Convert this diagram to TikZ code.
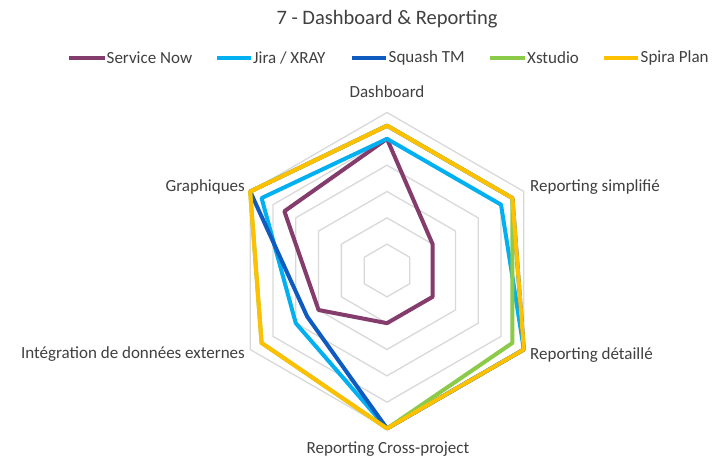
\documentclass[tikz,border=0pt]{standalone}
\usepackage{fontspec}
\setmainfont{Carlito}
\definecolor{cSN}{HTML}{833C6B}
\definecolor{cJira}{HTML}{00B0F0}
\definecolor{cSquash}{HTML}{0F5BC0}
\definecolor{cXs}{HTML}{8CCB4A}
\definecolor{cSpira}{HTML}{FFC000}
\definecolor{cGrid}{HTML}{D9D9D9}
\definecolor{cText}{HTML}{404040}
\newcommand\myradar[7]{\draw[series,#1] (-90:#2*26.333) -- (-30:#3*26.333) -- (30:#4*26.333) -- (90:#5*26.333) -- (150:#6*26.333) -- (210:#7*26.333) -- cycle;}
\begin{document}
\begin{tikzpicture}[x=1pt,y=-1pt,
  series/.style={line width=4pt,line join=round},
  legline/.style={line width=4pt},
  gridline/.style={draw=cGrid,line width=1.3pt},
  lbl/.style={text=cText,font=\fontsize{17}{20}\selectfont,inner sep=0pt},
  ttl/.style={text=cText,font=\fontsize{20.5}{24}\selectfont,inner sep=0pt}]
\useasboundingbox[fill=white] (0,0) rectangle (728,459);
\node[ttl] (title) at (387,19) {7 - Dashboard \& Reporting};
% legend
\coordinate (l1a) at (69,58); \coordinate (l1b) at (104.5,58);
\coordinate (l2a) at (217,58); \coordinate (l2b) at (251,58);
\coordinate (l3a) at (352,58); \coordinate (l3b) at (386,58);
\coordinate (l4a) at (490,58); \coordinate (l4b) at (525,58);
\coordinate (l5a) at (603.5,58); \coordinate (l5b) at (638,58);
\draw[legline,cSN] (l1a) -- (l1b);
\draw[legline,cJira] (l2a) -- (l2b);
\draw[legline,cSquash] (l3a) -- (l3b);
\draw[legline,cXs] (l4a) -- (l4b);
\draw[legline,cSpira] (l5a) -- (l5b);
\node[lbl,anchor=west] (t1) at (106.5,58) {Service Now};
\node[lbl,anchor=west] (t2) at (253,58) {Jira / XRAY};
\node[lbl,anchor=west] (t3) at (388.5,58) {Squash TM};
\node[lbl,anchor=west] (t4) at (527,58) {Xstudio};
\node[lbl,anchor=west] (t5) at (640.5,58) {Spira Plan};
% radar
\begin{scope}[shift={(387,270.5)}]
  \foreach \k in {1,...,6}{
    \draw[gridline] (-90:\k*26.333) -- (-30:\k*26.333) -- (30:\k*26.333) -- (90:\k*26.333) -- (150:\k*26.333) -- (210:\k*26.333) -- cycle;
  }
  \myradar{cSN}{5}{2}{2}{2}{3}{4.5}
  \myradar{cJira}{5}{5}{6}{6}{4}{5.5}
  \myradar{cSquash}{5.5}{5.5}{6}{6}{3.5}{6}
  \myradar{cXs}{5.5}{5.5}{5.5}{6}{5.5}{6}
  \myradar{cSpira}{5.5}{5.5}{6}{6}{5.5}{6}
\end{scope}
% axis labels
\node[lbl] (a1) at (387,92) {Dashboard};
\node[lbl,anchor=west] (a2) at (530,187) {Reporting simplifié};
\node[lbl,anchor=west] (a3) at (530,355) {Reporting détaillé};
\node[lbl] (a4) at (388,449) {Reporting Cross-project};
\node[lbl,anchor=east] (a5) at (245,354) {Intégration de données externes};
\node[lbl,anchor=east] (a6) at (245,187) {Graphiques};
\end{tikzpicture}
\end{document}
